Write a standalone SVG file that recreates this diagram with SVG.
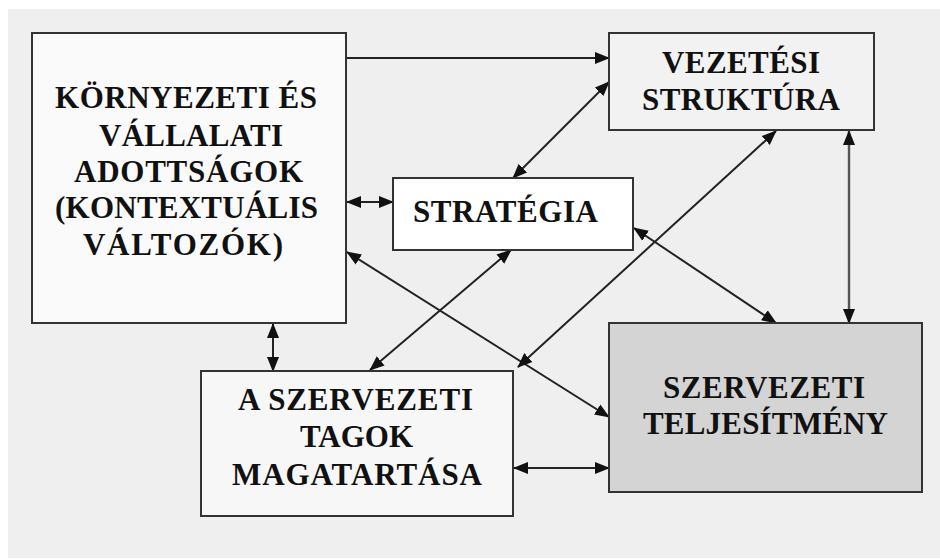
<svg xmlns="http://www.w3.org/2000/svg" width="940" height="559" viewBox="0 0 940 559">
<style>
.box{stroke:#333;stroke-width:2}
.t{font-family:"Liberation Serif","Times New Roman",serif;font-weight:bold;font-size:31px;fill:#111}
.c{stroke:#222;stroke-width:2;fill:none}
</style>
<defs>
<marker id="ah" markerUnits="userSpaceOnUse" markerWidth="16" markerHeight="14" refX="14" refY="6" orient="auto-start-reverse" viewBox="0 0 16 12">
<path d="M0,0 L15,6 L0,12 Z" fill="#111"/>
</marker>
</defs>
<rect x="0" y="0" width="940" height="559" fill="#ffffff"/>
<rect x="8" y="9" width="932" height="549" fill="#efefef"/>
<g id="connectors">
<path class="c" d="M346,58 L609,58" marker-end="url(#ah)"/>
<path class="c" d="M513,178 L609,82" marker-start="url(#ah)" marker-end="url(#ah)"/>
<path class="c" d="M347,202 L393,202" marker-start="url(#ah)" marker-end="url(#ah)"/>
<path class="c" d="M347,252 L609,417" marker-start="url(#ah)" marker-end="url(#ah)"/>
<path class="c" d="M273,324 L273,371" marker-start="url(#ah)" marker-end="url(#ah)"/>
<path class="c" d="M370,370 L511,250" marker-start="url(#ah)" marker-end="url(#ah)"/>
<path class="c" d="M518,367 L776,131" marker-start="url(#ah)" marker-end="url(#ah)"/>
<path class="c" d="M634,228 L776,323" marker-start="url(#ah)" marker-end="url(#ah)"/>
<path class="c" d="M849,131 L849,323" style="stroke:#555;stroke-width:2.4" marker-start="url(#ah)" marker-end="url(#ah)"/>
<path class="c" d="M514,468 L609,468" marker-start="url(#ah)" marker-end="url(#ah)"/>
</g>
<g id="kornyezeti">
<rect class="box" x="32" y="33" width="314" height="290" fill="#fafafa"/>
<text class="t" x="55" y="108" textLength="262" lengthAdjust="spacing">KÖRNYEZETI ÉS</text>
<text class="t" x="99" y="146" textLength="184" lengthAdjust="spacing">VÁLLALATI</text>
<text class="t" x="74" y="182" textLength="229" lengthAdjust="spacing">ADOTTSÁGOK</text>
<text class="t" x="55" y="218" textLength="263" lengthAdjust="spacing">(KONTEXTUÁLIS</text>
<text class="t" x="83" y="255" textLength="200" lengthAdjust="spacing">VÁLTOZÓK)</text>
</g>
<g id="strategia">
<rect class="box" x="393" y="178" width="240" height="72" fill="#ffffff"/>
<text class="t" x="413" y="222" textLength="185" lengthAdjust="spacing">STRATÉGIA</text>
</g>
<g id="vezetesi">
<rect class="box" x="609" y="33" width="265" height="97" fill="#f2f2f2"/>
<text class="t" x="662" y="73" textLength="158" lengthAdjust="spacing">VEZETÉSI</text>
<text class="t" x="642" y="110" textLength="198" lengthAdjust="spacing">STRUKTÚRA</text>
</g>
<g id="tagok">
<rect class="box" x="201" y="371" width="312" height="145" fill="#f7f7f7"/>
<text class="t" x="238" y="410" textLength="235" lengthAdjust="spacing">A SZERVEZETI</text>
<text class="t" x="300" y="447" textLength="113" lengthAdjust="spacing">TAGOK</text>
<text class="t" x="232" y="485" textLength="250" lengthAdjust="spacing">MAGATARTÁSA</text>
</g>
<g id="teljesitmeny">
<rect class="box" x="609" y="323" width="313" height="169" fill="#d4d4d4"/>
<text class="t" x="663" y="398" textLength="202" lengthAdjust="spacing">SZERVEZETI</text>
<text class="t" x="643" y="434" textLength="245" lengthAdjust="spacing">TELJESÍTMÉNY</text>
</g>
</svg>
